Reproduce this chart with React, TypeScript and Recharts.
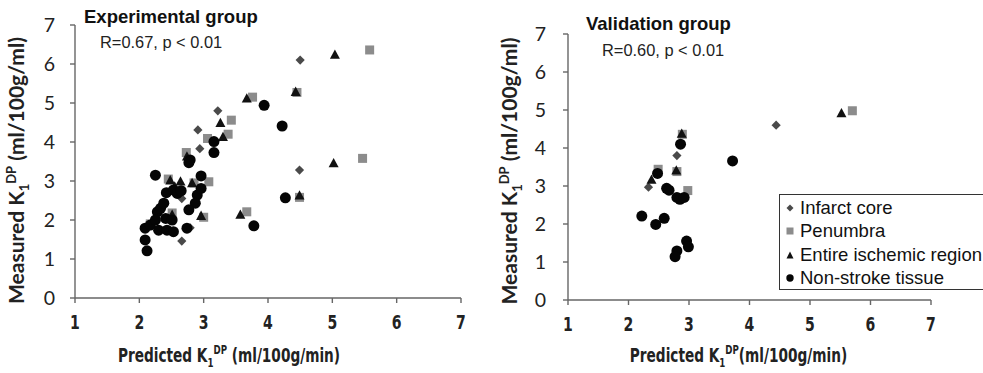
import React from 'react';
import { ScatterChart, Scatter, XAxis, YAxis } from 'recharts';

const seriesNames = ['Infarct core', 'Penumbra', 'Entire ischemic region', 'Non-stroke tissue'];
const xTicks = [1, 2, 3, 4, 5, 6, 7];
const yTicks = [0, 1, 2, 3, 4, 5, 6, 7];

const expTitle = 'Experimental group';
const expStat = 'R=0.67, p < 0.01';
const valTitle = 'Validation group';
const valStat = 'R=0.60, p < 0.01';

const expInfarct = [
  { x: 4.50, y: 6.10 }, { x: 3.22, y: 4.80 }, { x: 2.91, y: 4.31 }, { x: 2.94, y: 3.83 },
  { x: 4.49, y: 3.28 }, { x: 2.66, y: 2.55 }, { x: 2.66, y: 1.46 }, { x: 2.79, y: 1.80 },
];
const expPenumbra = [
  { x: 5.58, y: 6.36 }, { x: 3.76, y: 5.15 }, { x: 4.45, y: 5.27 }, { x: 3.43, y: 4.56 },
  { x: 3.38, y: 4.20 }, { x: 3.06, y: 4.09 }, { x: 2.73, y: 3.73 }, { x: 5.47, y: 3.58 },
  { x: 2.45, y: 3.05 }, { x: 3.08, y: 2.98 }, { x: 3.00, y: 2.07 }, { x: 3.67, y: 2.21 },
  { x: 4.49, y: 2.58 }, { x: 2.17, y: 1.90 }, { x: 2.51, y: 2.18 }, { x: 2.85, y: 2.95 },
];
const expEntire = [
  { x: 5.04, y: 6.23 }, { x: 3.67, y: 5.11 }, { x: 4.43, y: 5.28 }, { x: 3.26, y: 4.48 },
  { x: 3.30, y: 4.12 }, { x: 2.74, y: 3.62 }, { x: 5.02, y: 3.45 }, { x: 2.48, y: 3.01 },
  { x: 2.64, y: 2.98 }, { x: 2.82, y: 2.94 }, { x: 2.96, y: 2.10 }, { x: 3.57, y: 2.13 },
  { x: 4.49, y: 2.62 }, { x: 2.51, y: 2.13 }, { x: 2.55, y: 2.85 },
];
const expNonStroke = [
  { x: 3.94, y: 4.94 }, { x: 4.22, y: 4.41 }, { x: 3.16, y: 4.01 }, { x: 3.16, y: 3.73 },
  { x: 2.79, y: 3.54 }, { x: 2.77, y: 3.47 }, { x: 2.25, y: 3.15 }, { x: 2.96, y: 3.13 },
  { x: 2.42, y: 2.70 }, { x: 2.53, y: 2.77 }, { x: 2.59, y: 2.68 }, { x: 2.90, y: 2.64 },
  { x: 2.96, y: 2.81 }, { x: 2.87, y: 2.43 }, { x: 2.77, y: 2.26 }, { x: 2.28, y: 2.21 },
  { x: 2.33, y: 2.30 }, { x: 2.38, y: 2.43 }, { x: 2.41, y: 2.04 }, { x: 2.09, y: 1.79 },
  { x: 2.17, y: 1.87 }, { x: 2.30, y: 1.74 }, { x: 2.43, y: 1.74 }, { x: 2.53, y: 1.70 },
  { x: 2.74, y: 1.79 }, { x: 2.09, y: 1.49 }, { x: 2.12, y: 1.21 }, { x: 3.78, y: 1.85 },
  { x: 4.27, y: 2.57 }, { x: 2.25, y: 2.00 }, { x: 2.51, y: 2.00 }, { x: 2.65, y: 2.75 },
];

const valInfarct = [
  { x: 4.44, y: 4.60 }, { x: 2.80, y: 3.80 }, { x: 2.33, y: 2.97 },
];
const valPenumbra = [
  { x: 5.70, y: 4.98 }, { x: 2.89, y: 4.36 }, { x: 2.49, y: 3.44 }, { x: 2.80, y: 3.38 },
  { x: 2.98, y: 2.88 },
];
const valEntire = [
  { x: 5.52, y: 4.91 }, { x: 2.88, y: 4.37 }, { x: 2.79, y: 3.40 }, { x: 2.38, y: 3.16 },
];
const valNonStroke = [
  { x: 3.72, y: 3.66 }, { x: 2.86, y: 4.10 }, { x: 2.48, y: 3.33 }, { x: 2.63, y: 2.94 },
  { x: 2.67, y: 2.89 }, { x: 2.80, y: 2.70 }, { x: 2.85, y: 2.65 }, { x: 2.92, y: 2.70 },
  { x: 2.22, y: 2.21 }, { x: 2.45, y: 1.99 }, { x: 2.59, y: 2.15 }, { x: 2.96, y: 1.55 },
  { x: 2.99, y: 1.40 }, { x: 2.80, y: 1.29 }, { x: 2.77, y: 1.14 },
];

const DIAMOND = '#4a4a4a';
const SQUARE = '#8c8c8c';
const TRI = '#111111';
const CIRC = '#050505';

const Diamond = (p: any) => {
  const { cx, cy } = p;
  if (cx == null) return null;
  const s = 4.6;
  return <polygon points={`${cx},${cy - s} ${cx + s},${cy} ${cx},${cy + s} ${cx - s},${cy}`} fill={DIAMOND} />;
};
const Square = (p: any) => {
  const { cx, cy } = p;
  if (cx == null) return null;
  return <rect x={cx - 4.5} y={cy - 4.5} width={9} height={9} fill={SQUARE} />;
};
const Triangle = (p: any) => {
  const { cx, cy } = p;
  if (cx == null) return null;
  return <polygon points={`${cx},${cy - 5.5} ${cx + 5},${cy + 3.8} ${cx - 5},${cy + 3.8}`} fill={TRI} />;
};
const Circle = (p: any) => {
  const { cx, cy } = p;
  if (cx == null) return null;
  return <circle cx={cx} cy={cy} r={5.5} fill={CIRC} />;
};

const YTitle = (props: any) => {
  const vb = props.viewBox || {};
  const x = vb.x + props.offX;
  const y = vb.y + vb.height / 2 + props.offY;
  return (
    <text
      x={x}
      y={y}
      transform={`rotate(-90, ${x}, ${y})`}
      textAnchor="middle"
      fontFamily="Lato, 'Open Sans', sans-serif"
      fontWeight="bold"
      fontSize={21}
      fill="#222"
    >
      Measured K<tspan fontSize={13} dy={5}>1</tspan>
      <tspan fontSize={13} dy={-13}>DP</tspan>
      <tspan dy={8}> (ml/100g/ml)</tspan>
    </text>
  );
};

const narrowFont = "'DejaVu Sans Condensed', 'Liberation Sans', sans-serif";

const XTitle = (props: any) => {
  const vb = props.viewBox || {};
  const x = vb.x + vb.width / 2 + props.offX;
  const y = props.baseY;
  return (
    <g transform={`translate(${x},${y}) scale(0.8,1)`}>
      <text x={0} y={0} textAnchor="middle" fontFamily={narrowFont} fontWeight="bold" fontSize={19} fill="#222">
        Predicted K<tspan fontSize={12} dy={5}>1</tspan>
        <tspan fontSize={12} dy={-13}>DP</tspan>
        <tspan dy={8}>{props.gap ? ' ' : ''}(ml/100g/min)</tspan>
      </text>
    </g>
  );
};

const XTick = (props: any) => {
  const { x, y, payload } = props;
  return (
    <g transform={`translate(${x},${y}) scale(0.78,1)`}>
      <text x={0} y={0} dy="0.71em" textAnchor="middle" fontFamily={narrowFont} fontWeight="bold" fontSize={20} fill="#222">
        {payload.value}
      </text>
    </g>
  );
};

const axisStroke = '#666';
const yTickStyle = { fontFamily: "Lato, 'Open Sans', sans-serif", fontSize: 19.5, fill: '#222' };

function Panel(props: any) {
  const { data, width, margin, yWidth, yTickMargin, yTitleDx, yTitleDy, xTitleDx, gap } = props;
  return (
    <ScatterChart width={width} height={373} margin={margin}>
      <XAxis
        type="number"
        dataKey="x"
        domain={[1, 7]}
        ticks={xTicks}
        height={60}
        axisLine={{ stroke: axisStroke, strokeWidth: 1.4 }}
        tickLine={{ stroke: axisStroke, strokeWidth: 1.4 }}
        tickSize={5}
        tickMargin={12}
        tick={<XTick />}
        label={<XTitle baseY={362} offX={xTitleDx} gap={gap} />}
      />
      <YAxis
        type="number"
        dataKey="y"
        domain={[0, 7]}
        ticks={yTicks}
        width={yWidth}
        axisLine={{ stroke: axisStroke, strokeWidth: 1.4 }}
        tickLine={{ stroke: axisStroke, strokeWidth: 1.4 }}
        tickSize={5}
        tickMargin={yTickMargin}
        tick={yTickStyle}
        label={<YTitle offX={yTitleDx} offY={yTitleDy} />}
      />
      <Scatter name={seriesNames[1]} data={data[1]} shape={Square} isAnimationActive={false} />
      <Scatter name={seriesNames[0]} data={data[0]} shape={Diamond} isAnimationActive={false} />
      <Scatter name={seriesNames[2]} data={data[2]} shape={Triangle} isAnimationActive={false} />
      <Scatter name={seriesNames[3]} data={data[3]} shape={Circle} isAnimationActive={false} />
    </ScatterChart>
  );
}

const legendMarkers = [
  <polygon key="d" points="4,0.5 7.5,4 4,7.5 0.5,4" fill={DIAMOND} />,
  <rect key="s" x={0.5} y={0.5} width={7} height={7} fill={SQUARE} />,
  <polygon key="t" points="4,0.5 7.5,7.5 0.5,7.5" fill={TRI} />,
  <circle key="c" cx={4} cy={4} r={3.7} fill={CIRC} />,
];

export default function App() {
  const titleFont = "'Liberation Sans', Arial, sans-serif";
  return (
    <div style={{ position: 'absolute', left: 0, top: 0, width: 983, height: 373, background: '#fff', overflow: 'hidden' }}>
      <div style={{ position: 'absolute', left: 0, top: 0 }}>
        <Panel
          data={[expInfarct, expPenumbra, expEntire, expNonStroke]}
          width={483}
          margin={{ top: 25, right: 22, bottom: 15, left: 0 }}
          yWidth={75}
          yTickMargin={15}
          yTitleDx={24}
          yTitleDy={9}
          xTitleDx={-39}
          gap={true}
        />
      </div>
      <div style={{ position: 'absolute', left: 483, top: 0 }}>
        <Panel
          data={[valInfarct, valPenumbra, valEntire, valNonStroke]}
          width={500}
          margin={{ top: 34, right: 52, bottom: 13, left: 0 }}
          yWidth={85}
          yTickMargin={17}
          yTitleDx={34}
          yTitleDy={4}
          xTitleDx={-11}
          gap={false}
        />
      </div>
      <div style={{ position: 'absolute', left: 84, top: 8, lineHeight: 1, fontFamily: titleFont, fontWeight: 'bold', fontSize: 18.5, color: '#111', whiteSpace: 'nowrap' }}>{expTitle}</div>
      <div style={{ position: 'absolute', left: 100, top: 34, lineHeight: 1, fontFamily: titleFont, fontSize: 16.4, color: '#222', whiteSpace: 'nowrap' }}>{expStat}</div>
      <div style={{ position: 'absolute', left: 586, top: 14.5, lineHeight: 1, fontFamily: titleFont, fontWeight: 'bold', fontSize: 18.5, color: '#111', whiteSpace: 'nowrap' }}>{valTitle}</div>
      <div style={{ position: 'absolute', left: 602, top: 42, lineHeight: 1, fontFamily: titleFont, fontSize: 16.4, color: '#222', whiteSpace: 'nowrap' }}>{valStat}</div>
      <div
        style={{
          position: 'absolute',
          left: 779,
          top: 194,
          width: 210,
          height: 96,
          border: '1.5px solid #333',
          background: '#fff',
          boxSizing: 'border-box',
          paddingTop: 1,
          paddingLeft: 6,
        }}
      >
        {seriesNames.map((n, i) => (
          <div key={n} style={{ display: 'flex', alignItems: 'center', height: 23.5, fontFamily: titleFont, fontSize: 18.5, color: '#111', whiteSpace: 'nowrap' }}>
            <svg width={8} height={8} style={{ marginRight: 6 }}>{legendMarkers[i]}</svg>
            {n}
          </div>
        ))}
      </div>
    </div>
  );
}
